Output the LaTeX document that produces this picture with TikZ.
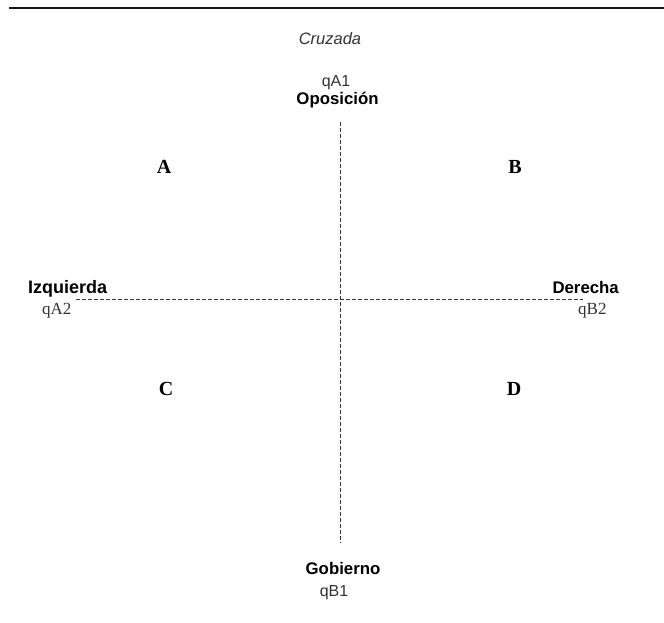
\documentclass[tikz,border=0pt]{standalone}
\usepackage{fontspec}
\setmainfont{Liberation Serif}
\setsansfont{Liberation Sans}
\begin{document}
\begin{tikzpicture}[x=1pt,y=-1pt,
  lbl/.style={font=\sffamily\bfseries\fontsize{16.8}{19}\selectfont, inner sep=0pt},
  qsans/.style={font=\sffamily\fontsize{16}{19}\selectfont, text=black!80, inner sep=0pt},
  qserif/.style={font=\rmfamily\fontsize{17}{19}\selectfont, text=black!80, inner sep=0pt},
  quad/.style={font=\rmfamily\bfseries\fontsize{20}{22}\selectfont, inner sep=0pt},
  axis/.style={draw=black!80, line width=0.9pt, dash pattern=on 4pt off 2pt}]
\useasboundingbox (0,0) rectangle (664,623);
% top rule
\coordinate (r1) at (9,8);
\coordinate (r2) at (664,8);
\draw[line width=2.8pt, black!90] (r1) -- (r2);
% title
\node[font=\sffamily\itshape\fontsize{16.5}{19}\selectfont, text=black!80, inner sep=0pt, anchor=base] (cru) at (330,45) {Cruzada};
% top labels
\node[qsans, anchor=base] (qa1) at (336,87) {qA1};
\node[lbl, anchor=base] (opo) at (337.5,105) {Oposición};
% bottom labels
\node[lbl, anchor=base] (gob) at (343,574) {Gobierno};
\node[qsans, anchor=base] (qb1) at (334,596) {qB1};
% left labels
\node[lbl, anchor=base west, font=\sffamily\bfseries\fontsize{18}{20}\selectfont] (izq) at (28,293) {Izquierda};
\node[qserif, anchor=base west] (qa2) at (42,314) {qA2};
% right labels
\node[lbl, anchor=base east] (der) at (619,293) {Derecha};
\node[qserif, anchor=base west] (qb2) at (578,314) {qB2};
% quadrant letters
\node[quad, anchor=base] (A) at (164,174) {A};
\node[quad, anchor=base] (B) at (515,174) {B};
\node[quad, anchor=base] (C) at (166,395) {C};
\node[quad, anchor=base] (D) at (514,395) {D};
% axes
\coordinate (vt) at (340,122);
\coordinate (vb) at (340,543);
\coordinate (hl) at (76,299);
\coordinate (hr) at (583,299);
\draw[axis] (vt) -- (vb);
\draw[axis] (hl) -- (hr);
\end{tikzpicture}
\end{document}
